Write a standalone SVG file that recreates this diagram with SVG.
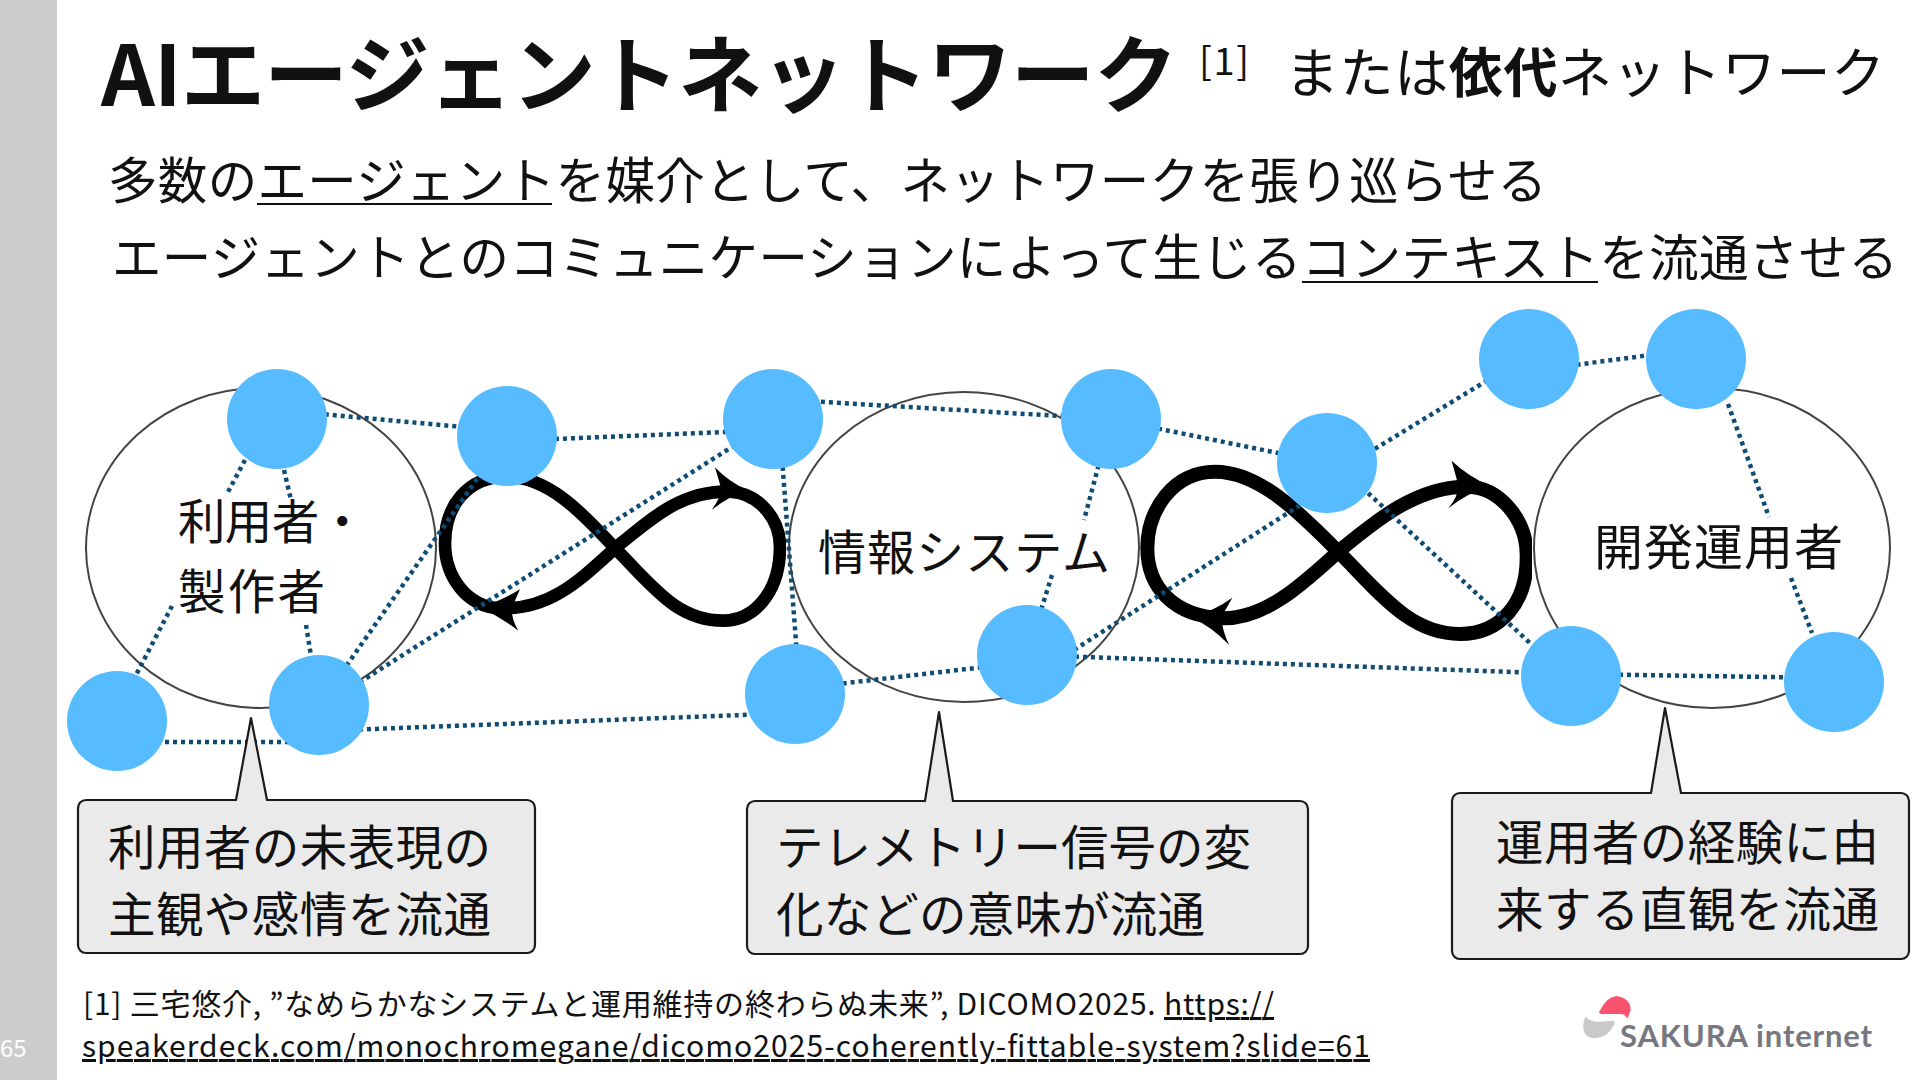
<svg xmlns="http://www.w3.org/2000/svg" width="1920" height="1080" viewBox="0 0 1920 1080">
<style>
text{font-family:"Noto Sans CJK JP","Noto Sans",sans-serif;fill:#111}
.t{font-size:49.5px}
.l{font-size:47.5px}
.f{font-size:30px}
.big{fill:#fff;stroke:#444;stroke-width:2}
.n{fill:#56bbff}
.c{stroke:#0f4c75;stroke-width:4.5;stroke-dasharray:4 4;fill:none}
.co{fill:#eaeaea;stroke:#1a1a1a;stroke-width:2.2;stroke-linejoin:round}
.inf{fill:none;stroke:#000}
.ul{stroke:#111;stroke-width:2}
</style>
<defs>
<clipPath id="cl1"><rect x="400" y="360" width="386" height="320"/></clipPath>
<clipPath id="cl2"><rect x="1100" y="420" width="432" height="260"/></clipPath>
</defs>
<rect width="1920" height="1080" fill="#fff"/>
<rect id="sidebar" width="57" height="1080" fill="#cccccc"/>
<text x="0" y="1057" style="font-size:24px;fill:#fff">65</text>

<g id="title">
<text x="101" y="106" textLength="1077" style="font-size:84px;font-weight:700">AIエージェントネットワーク</text>
<text x="1199" y="75" textLength="50" style="font-size:38px">[1]</text>
<text x="1285" y="93" textLength="600" style="font-size:54px">または<tspan font-weight="700">依代</tspan>ネットワーク</text>
</g>
<g id="subtitle">
<text class="t" x="108" y="199" textLength="1439">多数のエージェントを媒介として、ネットワークを張り巡らせる</text>
<line class="ul" x1="257" y1="204" x2="552" y2="204"/>
<text class="t" x="112" y="276" textLength="1786">エージェントとのコミュニケーションによって生じるコンテキストを流通させる</text>
<line class="ul" x1="1302" y1="282" x2="1598" y2="282"/>
</g>

<g id="circle-users"><ellipse class="big" cx="261" cy="548" rx="175" ry="160"/>
<text x="178" y="539" textLength="188" style="font-size:47.5px">利用者・</text>
<text x="178" y="609" textLength="147" style="font-size:47.5px">製作者</text></g>
<g id="circle-system"><ellipse class="big" cx="964" cy="547" rx="175" ry="155"/>
<text x="818" y="570" textLength="292" style="font-size:48px">情報システム</text></g>
<g id="circle-ops"><ellipse class="big" cx="1712" cy="548" rx="178" ry="160"/>
<text x="1594" y="565" textLength="249" style="font-size:49px">開発運用者</text></g>

<g id="loop-left" clip-path="url(#cl1)"><g transform="translate(400 360) scale(.3333)">
<path class="inf" stroke-width="38" d="M645 565C760 470 850 390 990 395C1080 400 1140 480 1140 560C1140 700 1060 782 970 782C830 782 760 680 645 565C540 450 440 350 320 350C200 350 135 440 135 550C135 650 200 740 300 745C450 750 540 660 645 565Z"/>
<path d="M945 322Q985 365 1045 392Q990 405 935 450Q960 415 965 390Z"/>
<path d="M360 688Q300 725 238 742Q300 770 355 812Q335 780 335 745Z"/>
</g></g>
<g id="loop-right" clip-path="url(#cl2)"><g transform="translate(1100 420) scale(.3333)">
<path class="inf" stroke-width="42" d="M715 395C830 300 950 200 1100 200C1200 200 1278 300 1280 400C1285 550 1200 642 1080 642C930 642 840 520 715 395C600 280 480 155 345 155C220 155 142 270 142 385C142 500 220 590 370 595C500 595 610 490 715 395Z"/>
<path d="M1055 122Q1105 170 1175 200Q1105 215 1045 265Q1075 230 1075 195Z"/>
<path d="M397 533Q340 575 272 590Q335 620 388 675Q365 630 365 590Z"/>
</g></g>

<g id="connectors">
<line class="c" x1="277" y1="410" x2="507" y2="431"/>
<line class="c" x1="507" y1="441" x2="773" y2="430"/>
<line class="c" x1="773" y1="399" x2="1111" y2="419"/>
<line class="c" x1="1111" y1="419" x2="1327" y2="463"/>
<line class="c" x1="1327" y1="478" x2="1529" y2="355"/>
<line class="c" x1="1529" y1="371" x2="1696" y2="349"/>
<line class="c" x1="245" y1="460" x2="228" y2="492"/>
<line class="c" x1="172" y1="606" x2="112" y2="721"/>
<line class="c" x1="284" y1="470" x2="291" y2="500"/>
<line class="c" x1="306" y1="625" x2="319" y2="705"/>
<line class="c" x1="117" y1="742" x2="319" y2="742"/>
<line class="c" x1="319" y1="731" x2="795" y2="713"/>
<line class="c" x1="319" y1="705" x2="507" y2="436"/>
<line class="c" x1="319" y1="708" x2="773" y2="421"/>
<line class="c" x1="779" y1="419" x2="800" y2="694"/>
<line class="c" x1="795" y1="689" x2="1027" y2="662"/>
<line class="c" x1="1111" y1="419" x2="1084" y2="520"/>
<line class="c" x1="1052" y1="575" x2="1027" y2="655"/>
<line class="c" x1="1027" y1="680" x2="1327" y2="488"/>
<line class="c" x1="1027" y1="655" x2="1571" y2="674"/>
<line class="c" x1="1327" y1="455" x2="1571" y2="681"/>
<line class="c" x1="1571" y1="674" x2="1834" y2="678"/>
<line class="c" x1="1728" y1="404" x2="1769" y2="517"/>
<line class="c" x1="1791" y1="578" x2="1812" y2="633"/>
</g>

<g id="n1"><circle class="n" cx="277" cy="419" r="50"/></g>
<g id="n2"><circle class="n" cx="507" cy="436" r="50"/></g>
<g id="n3"><circle class="n" cx="773" cy="419" r="50"/></g>
<g id="n4"><circle class="n" cx="1111" cy="419" r="50"/></g>
<g id="n5"><circle class="n" cx="1327" cy="463" r="50"/></g>
<g id="n6"><circle class="n" cx="1529" cy="359" r="50"/></g>
<g id="n7"><circle class="n" cx="1696" cy="359" r="50"/></g>
<g id="n8"><circle class="n" cx="117" cy="721" r="50"/></g>
<g id="n9"><circle class="n" cx="319" cy="705" r="50"/></g>
<g id="n10"><circle class="n" cx="795" cy="694" r="50"/></g>
<g id="n11"><circle class="n" cx="1027" cy="655" r="50"/></g>
<g id="n12"><circle class="n" cx="1571" cy="676" r="50"/></g>
<g id="n13"><circle class="n" cx="1834" cy="682" r="50"/></g>

<g id="callout-users">
<path class="co" d="M86 800H236L251 718L267 800H527a8 8 0 0 1 8 8V945a8 8 0 0 1-8 8H86a8 8 0 0 1-8-8V808a8 8 0 0 1 8-8Z"/>
<text class="l" x="108" y="865" textLength="383">利用者の未表現の</text>
<text class="l" x="108" y="932" textLength="383">主観や感情を流通</text>
</g>
<g id="callout-system">
<path class="co" d="M755 801H925L939 712L953 801H1300a8 8 0 0 1 8 8V946a8 8 0 0 1-8 8H755a8 8 0 0 1-8-8V809a8 8 0 0 1 8-8Z"/>
<text class="l" x="776" y="865" textLength="475">テレメトリー信号の変</text>
<text class="l" x="776" y="932" textLength="429">化などの意味が流通</text>
</g>
<g id="callout-ops">
<path class="co" d="M1460 793H1651L1665 708L1681 793H1901a8 8 0 0 1 8 8V951a8 8 0 0 1-8 8H1460a8 8 0 0 1-8-8V801a8 8 0 0 1 8-8Z"/>
<text class="l" x="1496" y="860" textLength="383">運用者の経験に由</text>
<text class="l" x="1496" y="927" textLength="383">来する直観を流通</text>
</g>

<g id="footnote">
<text class="f" x="83" y="1015" textLength="1191">[1] 三宅悠介, ”なめらかなシステムと運用維持の終わらぬ未来”, DICOMO2025. <tspan text-decoration="underline">https://</tspan></text>
<text class="f" x="82" y="1057" textLength="1288" text-decoration="underline">speakerdeck.com/monochromegane/dicomo2025-coherently-fittable-system?slide=61</text>
</g>

<g id="logo">
<g transform="translate(1500 960) scale(.3333)">
<path fill="#f9546f" d="M298 155Q320 110 350 108Q392 115 392 150L382 177Q375 160 360 162L305 162Q295 162 298 155Z"/>
<path fill="#c9c9cc" d="M258 170Q268 185 300 185L340 182Q348 185 342 195Q320 235 285 235Q250 232 250 200Q250 180 258 170Z"/>
</g>
<text x="1620" y="1047" textLength="252" style="font-family:Lato,sans-serif;font-size:31px;font-weight:700;fill:#77777f">SAKURA internet</text>
</g>
</svg>
